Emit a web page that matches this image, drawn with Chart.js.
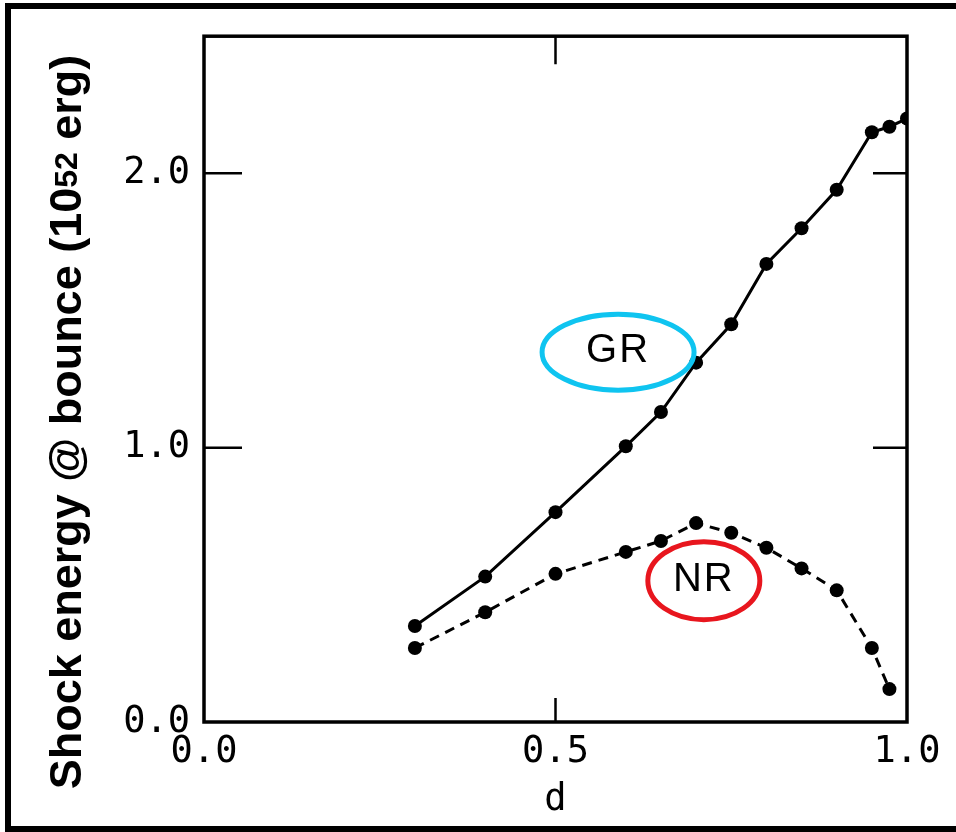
<!DOCTYPE html>
<html>
<head>
<meta charset="utf-8">
<script src="https://cdn.jsdelivr.net/npm/chart.js@4.4.1/dist/chart.umd.min.js"></script>
<style>html,body{margin:0;padding:0;background:#fff;}canvas{display:block;}</style>
</head>
<body>
<canvas id="c" width="956" height="832"></canvas>
<script>
// ---- data ----
const dGR = [0.3, 0.4, 0.5, 0.6, 0.65, 0.7, 0.75, 0.8, 0.85, 0.9, 0.95, 0.975, 1.0];
const energyGR = [0.35, 0.53, 0.765, 1.005, 1.13, 1.31, 1.45, 1.67, 1.80, 1.94, 2.15, 2.17, 2.20];
const dNR = [0.3, 0.4, 0.5, 0.6, 0.65, 0.7, 0.75, 0.8, 0.85, 0.9, 0.95, 0.975];
const energyNR = [0.27, 0.40, 0.54, 0.62, 0.66, 0.725, 0.69, 0.635, 0.56, 0.48, 0.27, 0.12];
const xTicks = [0.0, 0.5, 1.0];
const yTicks = [0.0, 1.0, 2.0];
const seriesNames = ['GR', 'NR'];
const xTitle = 'd';
const yTitleMain = 'Shock energy @ bounce (10';
const yTitleSup = '52';
const yTitleEnd = ' erg)';
// annotation label anchors in data units
const labelD = [0.589, 0.711];
const labelE = [1.348, 0.515];

const labelStyle = [
  {color: '#0FC4F0', rx: 76, ry: 38},
  {color: '#E8161E', rx: 56, ry: 39}
];

const tickFont = {family: '"DejaVu Sans Mono", monospace', size: 37};

const framePlugin = {
  id: 'frame',
  beforeDatasetsDraw(chart) {
    const {ctx, chartArea: a, scales} = chart;
    ctx.save();
    ctx.strokeStyle = '#000';
    ctx.lineWidth = 3.5;
    ctx.strokeRect(a.left, a.top, a.right - a.left, a.bottom - a.top);
    ctx.lineWidth = 2.5;
    ctx.beginPath();
    yTicks.forEach(v => {
      if (v <= scales.y.min || v >= scales.y.max) return;
      const y = scales.y.getPixelForValue(v);
      ctx.moveTo(a.left, y); ctx.lineTo(a.left + 38, y);
      ctx.moveTo(a.right, y); ctx.lineTo(a.right - 34, y);
    });
    xTicks.forEach(v => {
      if (v <= scales.x.min || v >= scales.x.max) return;
      const x = scales.x.getPixelForValue(v);
      ctx.moveTo(x, a.bottom); ctx.lineTo(x, a.bottom - 24);
      ctx.moveTo(x, a.top); ctx.lineTo(x, a.top + 28);
    });
    ctx.stroke();
    ctx.restore();
  },
  afterDatasetsDraw(chart) {
    const {ctx, scales} = chart;
    ctx.save();
    seriesNames.forEach((name, i) => {
      const cx = scales.x.getPixelForValue(labelD[i]);
      const cy = scales.y.getPixelForValue(labelE[i]);
      const st = labelStyle[i];
      ctx.beginPath();
      ctx.ellipse(cx, cy, st.rx, st.ry, 0, 0, Math.PI * 2);
      ctx.lineWidth = 5;
      ctx.strokeStyle = st.color;
      ctx.stroke();
      ctx.fillStyle = '#000';
      ctx.font = '40px "Liberation Sans", Arial, sans-serif';
      ctx.textAlign = 'center';
      ctx.textBaseline = 'alphabetic';
      ctx.letterSpacing = '2px';
      ctx.fillText(name, cx, cy + 10);
    });
    ctx.restore();
  },
  afterDraw(chart) {
    const {ctx} = chart;
    ctx.save();
    // outer frame of the figure
    ctx.fillStyle = '#000';
    ctx.fillRect(5, 3, 951, 6);
    ctx.fillRect(5, 3, 6, 829);
    ctx.fillRect(5, 826, 951, 6);
    // y axis title with superscript
    const mainFont = 'bold 45px "Liberation Sans", Arial, sans-serif';
    const supFont = 'bold 32px "Liberation Sans", Arial, sans-serif';
    ctx.font = mainFont;
    const w1 = ctx.measureText(yTitleMain).width;
    const w3 = ctx.measureText(yTitleEnd).width;
    ctx.font = supFont;
    const w2 = ctx.measureText(yTitleSup).width;
    const total = w1 + w2 + w3;
    ctx.translate(81, 422);
    ctx.rotate(-Math.PI / 2);
    ctx.textAlign = 'left';
    ctx.textBaseline = 'alphabetic';
    let x = -total / 2;
    ctx.font = mainFont; ctx.fillText(yTitleMain, x, 0); x += w1;
    ctx.font = supFont; ctx.fillText(yTitleSup, x, -4); x += w2;
    ctx.font = mainFont; ctx.fillText(yTitleEnd, x, 0);
    ctx.restore();
  }
};

const pointStyle = {
  showLine: true,
  borderColor: '#000',
  backgroundColor: '#000',
  borderWidth: 3,
  pointRadius: 7,
  pointHoverRadius: 7,
  pointBorderWidth: 0,
  tension: 0
};

new Chart(document.getElementById('c'), {
  type: 'scatter',
  data: {
    datasets: [
      Object.assign({label: seriesNames[0], data: dGR.map((d, i) => ({x: d, y: energyGR[i]}))}, pointStyle),
      Object.assign({label: seriesNames[1], data: dNR.map((d, i) => ({x: d, y: energyNR[i]})), borderDash: [10, 7]}, pointStyle)
    ]
  },
  options: {
    responsive: false,
    animation: false,
    devicePixelRatio: 1,
    layout: {padding: {left: 0, top: 34, right: 49, bottom: 0}},
    plugins: {legend: {display: false}, tooltip: {enabled: false}},
    scales: {
      x: {
        type: 'linear', min: 0, max: 1,
        afterBuildTicks: s => { s.ticks = xTicks.map(v => ({value: v})); },
        afterFit: s => { s.height = 110; },
        grid: {display: false, drawTicks: false},
        border: {display: false},
        ticks: {padding: 8, font: tickFont, color: '#000', maxRotation: 0, autoSkip: false, callback: v => v.toFixed(1)},
        title: {display: true, text: xTitle, color: '#000', font: tickFont, padding: {top: 0, bottom: 9}}
      },
      y: {
        type: 'linear', min: 0, max: 2.5,
        afterBuildTicks: s => { s.ticks = yTicks.map(v => ({value: v})); },
        afterFit: s => { s.width = 204; },
        grid: {display: false, drawTicks: false},
        border: {display: false},
        ticks: {padding: 14, font: tickFont, color: '#000', autoSkip: false, callback: v => v.toFixed(1)}
      }
    }
  },
  plugins: [framePlugin]
});
</script>
</body>
</html>
